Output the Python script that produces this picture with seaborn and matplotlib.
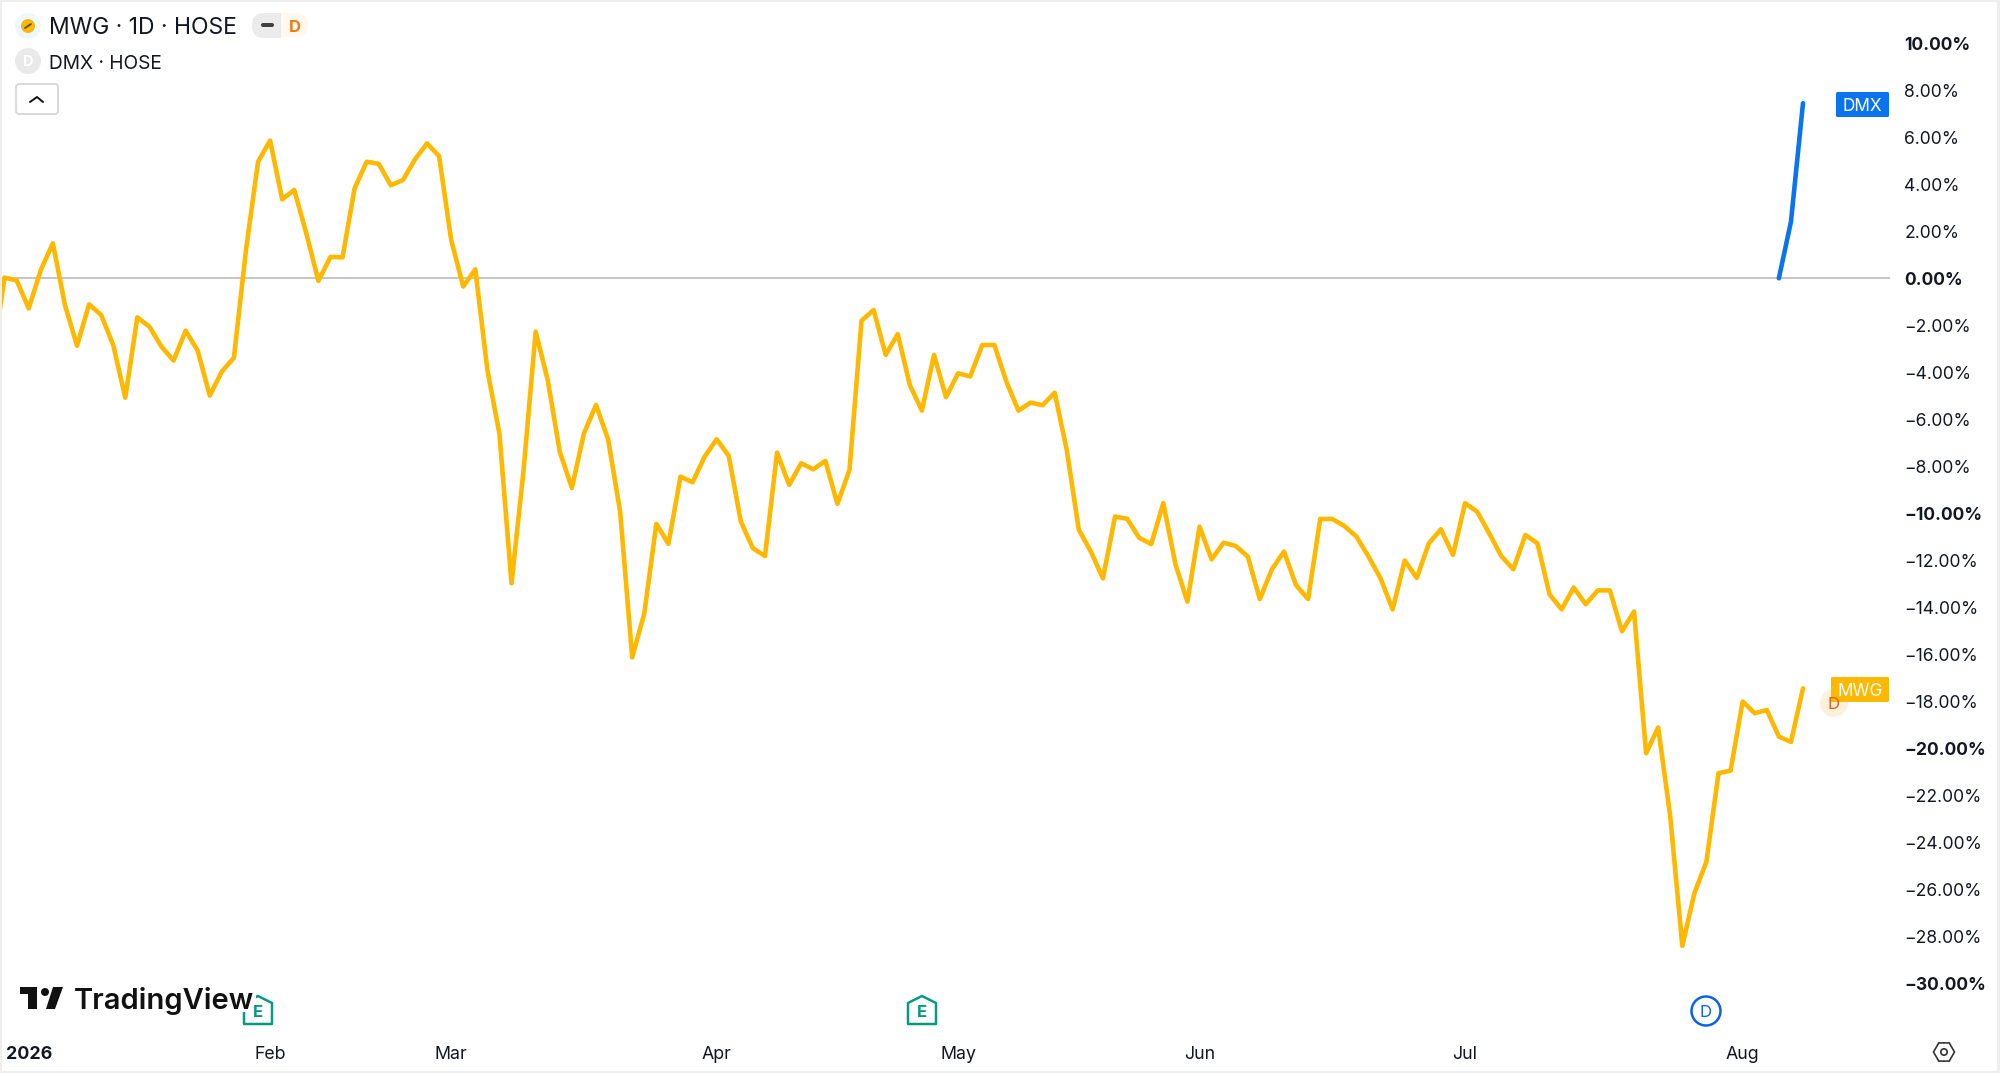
import numpy as np
import pandas as pd
import seaborn as sns
import matplotlib.pyplot as plt
from matplotlib.patches import Circle, FancyBboxPatch, Polygon, Rectangle

# Percent change per trading day
mwg_values = [
    -3.4, 0.03, -0.09, -1.28, 0.35, 1.49, -1.13, -2.87, -1.11, -1.56, -2.84, -5.08,
    -1.66, -2.06, -2.91, -3.50, -2.23, -3.08, -4.99, -3.97, -3.38, 1.20, 4.96, 5.86,
    3.36, 3.76, 1.91, -0.11, 0.91, 0.89, 3.83, 4.96, 4.87, 3.96, 4.18, 5.06, 5.74,
    5.20, 1.63, -0.35, 0.38, -3.90, -6.62, -12.98, -8.16, -2.27, -4.33, -7.38, -8.92,
    -6.60, -5.39, -6.85, -9.93, -16.13, -14.26, -10.45, -11.30, -8.44, -8.68, -7.59,
    -6.85, -7.56, -10.35, -11.49, -11.82, -7.42, -8.79, -7.87, -8.13, -7.77, -9.60,
    -8.16, -1.80, -1.35, -3.26, -2.37, -4.54, -5.63, -3.26, -5.06, -4.04, -4.18,
    -2.84, -2.84, -4.40, -5.63, -5.29, -5.40, -4.87, -7.30, -10.70, -11.63, -12.77,
    -10.14, -10.23, -11.04, -11.31, -9.57, -12.16, -13.76, -10.57, -11.96, -11.25,
    -11.39, -11.84, -13.65, -12.38, -11.63, -13.06, -13.65, -10.24, -10.24, -10.54,
    -10.99, -11.84, -12.77, -14.09, -12.01, -12.75, -11.28, -10.68, -11.77, -9.57,
    -9.93, -10.85, -11.82, -12.38, -10.92, -11.28, -13.45, -14.09, -13.16, -13.87,
    -13.28, -13.28, -15.02, -14.18, -20.21, -19.11, -22.90, -28.41, -26.17, -24.82,
    -21.06, -20.95, -18.01, -18.51, -18.37, -19.50, -19.73, -17.45,
]
dmx_values = [0.0, 2.4, 7.45]

y_ticks = [10, 8, 6, 4, 2, 0, -2, -4, -6, -8, -10, -12, -14, -16, -18, -20, -22, -24, -26, -28, -30]
month_labels = ['2026', 'Feb', 'Mar', 'Apr', 'May', 'Jun', 'Jul', 'Aug']
month_bars = [3, 23, 38, 60, 80, 100, 122, 145]

MWG_COLOR = '#ffb800'
DMX_COLOR = '#0a74f0'
TEXT = '#131722'
BAR_STEP = 12.07

mwg = pd.DataFrame({'bar': np.arange(len(mwg_values)), 'pct': mwg_values, 'symbol': 'MWG'})
dmx = pd.DataFrame({'bar': np.arange(len(mwg_values) - len(dmx_values), len(mwg_values)),
                    'pct': dmx_values, 'symbol': 'DMX'})
df = pd.concat([mwg, dmx], ignore_index=True)

sns.set_theme(style='white')
plt.rcParams['font.family'] = ['Inter', 'DejaVu Sans']

W, H = 2000, 1073
fig = plt.figure(figsize=(W / 100, H / 100), dpi=100, facecolor='white')

# price pane, placed in pixels
LEFT, RIGHT, TOP, BOTTOM = 2, 1890, 2, 1030
ax = fig.add_axes([LEFT / W, 1 - BOTTOM / H, (RIGHT - LEFT) / W, (BOTTOM - TOP) / H])
ax.axhline(0, color='#b4b4b4', lw=1.1, zorder=1)
sns.lineplot(data=df, x='bar', y='pct', hue='symbol', palette={'MWG': MWG_COLOR, 'DMX': DMX_COLOR},
             lw=3.3, errorbar=None, legend=False, ax=ax, zorder=3)
ax.lines[-1].set_solid_capstyle('round')
ax.lines[-2].set_solid_capstyle('round')

last = len(mwg_values) - 1
ax.set_xlim(last - (1803 - LEFT) / BAR_STEP, last + (RIGHT - 1803) / BAR_STEP)
ax.set_ylim((278.3 - BOTTOM) / 23.5, (278.3 - TOP) / 23.5)
ax.set_xlabel('')
ax.set_ylabel('')
for s in ax.spines.values():
    s.set_visible(False)

ax.yaxis.tick_right()
ax.set_yticks(y_ticks)
ax.set_yticklabels([f'{v:.2f}%'.replace('-', '\u2212') for v in y_ticks])
ax.tick_params(axis='y', length=0, pad=10.4, labelsize=12.6, labelcolor=TEXT)
for v, lab in zip(y_ticks, ax.get_yticklabels()):
    if v % 10 == 0:
        lab.set_fontweight('bold')

ax.set_xticks(month_bars)
ax.set_xticklabels(month_labels)
ax.tick_params(axis='x', length=0, pad=11.2, labelsize=12.8, labelcolor=TEXT)
ax.get_xticklabels()[0].set_fontweight('bold')

# overlay in pixel coordinates for the chart furniture
ov = fig.add_axes([0, 0, 1, 1], zorder=5)
ov.set_xlim(0, W)
ov.set_ylim(H, 0)
ov.axis('off')
ov.patch.set_alpha(0)

# frame of the widget
for x0, y0, w, h in [(0, 0, W, 2), (0, 0, 2, H), (W - 3, 0, 3, H), (0, H - 2, W, 2)]:
    ov.add_patch(Rectangle((x0, y0), w, h, fc='#eeeeee', ec='none'))

# legend rows
ov.add_patch(Circle((28, 26), 13, fc='#eef7fa', ec='none'))
ov.add_patch(Circle((28, 26), 7, fc='#f6b80e', ec='none'))
ov.plot([25, 31], [28, 24], color='#5a4300', lw=1.2)
ov.text(49, 26, 'MWG \u00b7 1D \u00b7 HOSE', fontsize=16.5, color=TEXT, va='center_baseline')
ov.add_patch(FancyBboxPatch((264, 13), 44, 24, boxstyle='round,pad=0,rounding_size=12', fc='#fff8ee', ec='none'))
ov.add_patch(FancyBboxPatch((252, 13), 29, 25, boxstyle='round,pad=0,rounding_size=12', fc='#ebebeb', ec='none'))
ov.add_patch(Rectangle((268, 13), 13, 25, fc='#ebebeb', ec='none'))
ov.add_patch(FancyBboxPatch((261, 23), 13, 4, boxstyle='round,pad=0,rounding_size=2', fc='#404040', ec='none'))
ov.text(295, 25.5, 'D', fontsize=12, fontweight='bold', color='#ef7a10', ha='center', va='center_baseline')

ov.add_patch(Circle((28, 61), 13, fc='#e9e9e9', ec='none'))
ov.text(28, 61, 'D', fontsize=10.5, fontweight='bold', color='white', ha='center', va='center_baseline')
ov.text(49, 62, 'DMX \u00b7 HOSE', fontsize=13.8, color=TEXT, va='center_baseline')
ov.add_patch(FancyBboxPatch((16, 84), 42, 30, boxstyle='round,pad=0,rounding_size=3', fc='white', ec='#d6d6d6', lw=1.3))
ov.plot([30, 37, 43], [102, 97, 102], color='#111111', lw=1.4)

# last value tags
ov.add_patch(Circle((1834, 703), 14, fc='#fdf1dc', ec='none'))
ov.text(1834, 703, 'D', fontsize=12, color='#e8590c', ha='center', va='center_baseline')
ov.add_patch(FancyBboxPatch((1831, 677), 58, 25, boxstyle='round,pad=0,rounding_size=1.5', fc=MWG_COLOR, ec='none'))
ov.text(1860, 689.5, 'MWG', fontsize=12.4, color='white', ha='center', va='center_baseline')
ov.add_patch(FancyBboxPatch((1836, 92), 53, 25, boxstyle='round,pad=0,rounding_size=1.5', fc=DMX_COLOR, ec='none'))
ov.text(1862.5, 104.5, 'DMX', fontsize=12.4, color='white', ha='center', va='center_baseline')


# earnings markers
def earnings(x, y):
    pts = [(x - 14, y + 14), (x + 14, y + 14), (x + 14, y - 7), (x, y - 14), (x - 14, y - 7)]
    ov.add_patch(Polygon(pts, closed=True, fc='white', ec='#089981', lw=1.8, joinstyle='round'))
    ov.text(x, y + 1, 'E', fontsize=12, fontweight='bold', color='#089981', ha='center', va='center_baseline', zorder=6)


earnings(258, 1010)
earnings(922, 1010)

# dividend marker
ov.add_patch(Circle((1706, 1011), 14.5, fc='white', ec='#0a62e8', lw=1.8))
ov.text(1706, 1011, 'D', fontsize=12, color='#0a62e8', ha='center', va='center_baseline')

# settings icon
ang = np.deg2rad([0, 60, 120, 180, 240, 300])
ov.add_patch(Polygon(np.c_[1944 + 10.5 * np.cos(ang), 1052 + 10.5 * np.sin(ang)], closed=True, fill=False, ec='#333333', lw=1.2))
ov.add_patch(Circle((1944, 1052), 3.2, fill=False, ec='#333333', lw=1.2))

# TradingView mark, its white backing cuts the first earnings marker
ov.add_patch(Rectangle((16, 984), 240, 28, fc='white', ec='none', zorder=4))
ov.add_patch(Polygon([(20, 987), (37, 987), (37, 1009), (28, 1009), (28, 994), (20, 994)], closed=True, fc='#111111', ec='none', zorder=5))
ov.add_patch(Circle((45, 992), 4, fc='#111111', ec='none', zorder=5))
ov.add_patch(Polygon([(53, 987), (63, 987), (55, 1009), (46, 1009)], closed=True, fc='#111111', ec='none', zorder=5))
ov.text(74, 998, 'TradingView', fontsize=21, fontweight=600, color='#111111', va='center_baseline', zorder=6)

fig.savefig('out.png', dpi=100)
